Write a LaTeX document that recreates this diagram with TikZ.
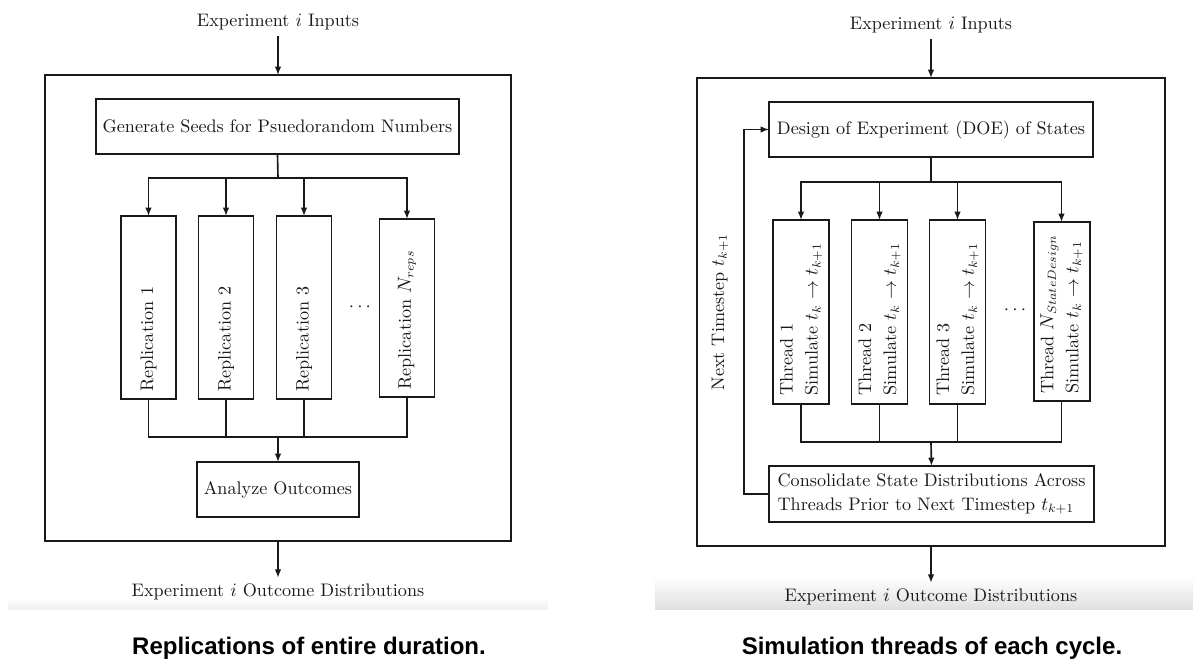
\documentclass[tikz,border=0pt]{standalone}
\usepackage{fontspec}
\newfontfamily\capfont{Liberation Sans}
\usetikzlibrary{arrows.meta}
\newdimen\pxu \pxu=0.5787pt
\definecolor{ink}{gray}{0.1}
\begin{document}
\begin{tikzpicture}[x=0.5787pt,y=-0.5787pt,
  every node/.style={text=ink, font=\fontsize{10.5pt}{13.5pt}\selectfont},
  box/.style={draw=ink, line width=1.15pt, inner sep=0pt, outer sep=0pt},
  conn/.style={draw=ink, line width=0.95pt},
  arr/.style={conn, -{Latex[length=4.8pt,width=3.8pt]}},
  vtxt/.style={rotate=90, anchor=west, inner sep=0pt, align=left},
  caption/.style={font=\capfont\bfseries\fontsize{13.9pt}{16pt}\selectfont, text=black}]
\useasboundingbox (0,0) rectangle (1193,659);
% screenshot bands
\shade[top color=white, bottom color=black!6] (8,598) rectangle (548,609);
\shade[top color=white, bottom color=black!12] (655,576) rectangle (1193,609);

% ================= LEFT =================
\node (inL) at (278,22) {Experiment $i$ Inputs};
\node[box, minimum width=466\pxu, minimum height=466\pxu] (outL) at (278,308) {};
\node[box, minimum width=363\pxu, minimum height=55\pxu] (genL) at (277.5,126.5) {Generate Seeds for Psuedorandom Numbers};
\node[box, minimum width=55\pxu, minimum height=183\pxu] (r1) at (148.5,307.5) {};
\node[box, minimum width=55\pxu, minimum height=183\pxu] (r2) at (226,307.5) {};
\node[box, minimum width=55\pxu, minimum height=183\pxu] (r3) at (304,307.5) {};
\node[box, minimum width=55\pxu, minimum height=178\pxu] (rN) at (407,308) {};
\node[vtxt] (r1t) at (148.5,392) {Replication 1};
\node[vtxt] (r2t) at (226,392) {Replication 2};
\node[vtxt] (r3t) at (304,392) {Replication 3};
\node[vtxt] (rNt) at (407,390) {Replication $N_{reps}$};
\node (dotsL) at (360,307) {$\cdots$};
\node[box, minimum width=162\pxu, minimum height=55\pxu] (anaL) at (278,489.5) {Analyze Outcomes};
\node (outLt) at (278,592) {Experiment $i$ Outcome Distributions};
\coordinate (bL) at (278,178);
\coordinate (mL) at (278,437);
\draw[arr] (inL.south) -- (outL.north);
\draw[conn] (genL.south) -- (bL);
\foreach \n in {r1,r2,r3,rN} {
  \draw[arr] (bL) -| (\n.north);
  \draw[conn] (\n.south) |- (mL);
}
\draw[arr] (mL) -- (anaL.north);
\draw[arr] (outL.south) -- (outLt.north);
\node[caption] (capL) at (309,648) {Replications of entire duration.};

% ================= RIGHT =================
\node (inR) at (931,25) {Experiment $i$ Inputs};
\node[box, minimum width=468\pxu, minimum height=468\pxu] (outR) at (931,312) {};
\node[box, minimum width=324\pxu, minimum height=55\pxu] (doe) at (931,129.5) {Design of Experiment (DOE) of States};
\node[box, minimum width=56\pxu, minimum height=184\pxu] (t1) at (801,312) {};
\node[box, minimum width=56\pxu, minimum height=184\pxu] (t2) at (879.5,312) {};
\node[box, minimum width=56\pxu, minimum height=184\pxu] (t3) at (957.5,312) {};
\node[box, minimum width=56\pxu, minimum height=179\pxu] (tN) at (1061.5,311.5) {};
\node[vtxt] (t1t) at (801,396) {Thread 1\\[1pt]Simulate $t_k \rightarrow t_{k+1}$};
\node[vtxt] (t2t) at (879.5,396) {Thread 2\\[1pt]Simulate $t_k \rightarrow t_{k+1}$};
\node[vtxt] (t3t) at (957.5,396) {Thread 3\\[1pt]Simulate $t_k \rightarrow t_{k+1}$};
\node[vtxt] (tNt) at (1061.5,394) {Thread $N_{StateDesign}$\\[1pt]Simulate $t_k \rightarrow t_{k+1}$};
\node (dotsR) at (1015,310) {$\cdots$};
\node[box, minimum width=325\pxu, minimum height=56\pxu, align=left, inner sep=3pt] (cons) at (931.5,494) {Consolidate State Distributions Across\\Threads Prior to Next Timestep $t_{k+1}$};
\node[rotate=90] (nt) at (720,312) {Next Timestep $t_{k+1}$};
\node (outRt) at (931,597) {Experiment $i$ Outcome Distributions};
\coordinate (bR) at (931,182);
\coordinate (mR) at (931,442);
\draw[arr] (inR.south) -- (outR.north);
\draw[conn] (doe.south) -- (bR);
\foreach \n in {t1,t2,t3,tN} {
  \draw[arr] (bR) -| (\n.north);
  \draw[conn] (\n.south) |- (mR);
}
\draw[arr] (mR) -- (cons.north);
\draw[arr] (cons.west) -- ++(-25,0) |- (doe.west);
\draw[arr] (outR.south) -- (outRt.north);
\node[caption] (capR) at (932,648) {Simulation threads of each cycle.};
\end{tikzpicture}
\end{document}
